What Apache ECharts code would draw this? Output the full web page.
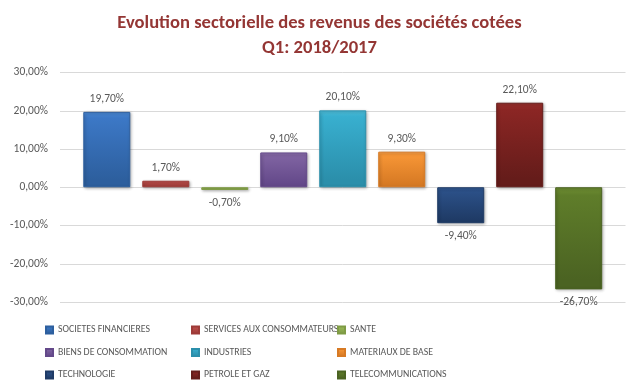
<!DOCTYPE html>
<html>
<head>
<meta charset="utf-8">
<script src="https://cdn.jsdelivr.net/npm/echarts@6/dist/echarts.min.js"></script>
<style>
html,body{margin:0;padding:0;background:#fff;}
#chart{width:639px;height:390px;}
</style>
</head>
<body>
<div id="chart"></div>
<script>
const sectors = ['SOCIETES FINANCIERES','SERVICES AUX CONSOMMATEURS','SANTE','BIENS DE CONSOMMATION','INDUSTRIES','MATERIAUX DE BASE','TECHNOLOGIE','PETROLE ET GAZ','TELECOMMUNICATIONS'];
const values = [19.7, 1.7, -0.7, 9.1, 20.1, 9.3, -9.4, 22.1, -26.7];
const yTicks = [-30, -20, -10, 0, 10, 20, 30];
const baseColors = ['#3c78c6','#c0504d','#9bbb59','#8064a2','#38afcf','#f79636','#2c5189','#8b2624','#5f7d2a'];
const topColors  = ['#4b8ad6','#d56b68','#b2d46e','#9479b8','#4fc0dc','#fba552','#3a64a0','#9a302d','#6f8f33'];
const darkColors = ['#2d5f9e','#9e3b38','#7f9b45','#64498a','#2b8fab','#d77a24','#1f3b66','#651c1a','#4b6322'];

const fmt = v => v.toFixed(2).replace('.', ',') + '%';
const font = 'Carlito, Lato, sans-serif';

const series = sectors.map((name, i) => ({
  name: name,
  type: 'bar',
  data: [values[i]],
  barWidth: 47,
  barGap: '25.5%',
  itemStyle: {
    color: new echarts.graphic.LinearGradient(0, 0, 0, 1, [
      {offset: 0, color: topColors[i]},
      {offset: 0.08, color: baseColors[i]},
      {offset: 0.9, color: darkColors[i]},
      {offset: 1, color: darkColors[i]}
    ]),
    borderColor: darkColors[i],
    borderWidth: 1,
    shadowColor: 'rgba(0,0,0,0.3)',
    shadowBlur: 3,
    shadowOffsetX: 1,
    shadowOffsetY: 1
  },
  label: {
    show: true,
    position: values[i] >= 0 ? 'top' : 'bottom',
    distance: 7,
    formatter: p => fmt(p.value),
    color: '#595959',
    fontSize: 11.5,
    fontFamily: font
  }
}));

const legendCommon = {
  orient: 'vertical',
  itemWidth: 7,
  itemHeight: 7,
  itemGap: 12.5,
  icon: 'rect',
  top: 320,
  textStyle: {color: '#595959', fontSize: 9.8, fontFamily: font}
};

const chart = echarts.init(document.getElementById('chart'));
chart.setOption({
  backgroundColor: '#fff',
  animation: false,
  title: {
    text: 'Evolution sectorielle des revenus des sociétés cotées\nQ1: 2018/2017',
    left: 'center',
    top: 6,
    textStyle: {color: '#943634', fontSize: 18.6, fontWeight: 'bold', fontFamily: font, lineHeight: 25}
  },
  grid: {left: 60, right: 13.5, top: 72.5, bottom: 88},
  legend: [
    Object.assign({}, legendCommon, {left: 40, data: [sectors[0], sectors[3], sectors[6]]}),
    Object.assign({}, legendCommon, {left: 186, data: [sectors[1], sectors[4], sectors[7]]}),
    Object.assign({}, legendCommon, {left: 332, data: [sectors[2], sectors[5], sectors[8]]})
  ],
  xAxis: {
    type: 'category',
    data: [''],
    axisLine: {show: false},
    axisTick: {show: false},
    axisLabel: {show: false}
  },
  yAxis: {
    type: 'value',
    min: yTicks[0],
    max: yTicks[yTicks.length - 1],
    interval: 10,
    axisLine: {show: false},
    axisTick: {show: false},
    axisLabel: {formatter: v => fmt(v), color: '#595959', fontSize: 11.5, fontFamily: font, margin: 12},
    splitLine: {lineStyle: {color: '#d9d9d9', width: 1}}
  },
  series: series
});
</script>
</body>
</html>
